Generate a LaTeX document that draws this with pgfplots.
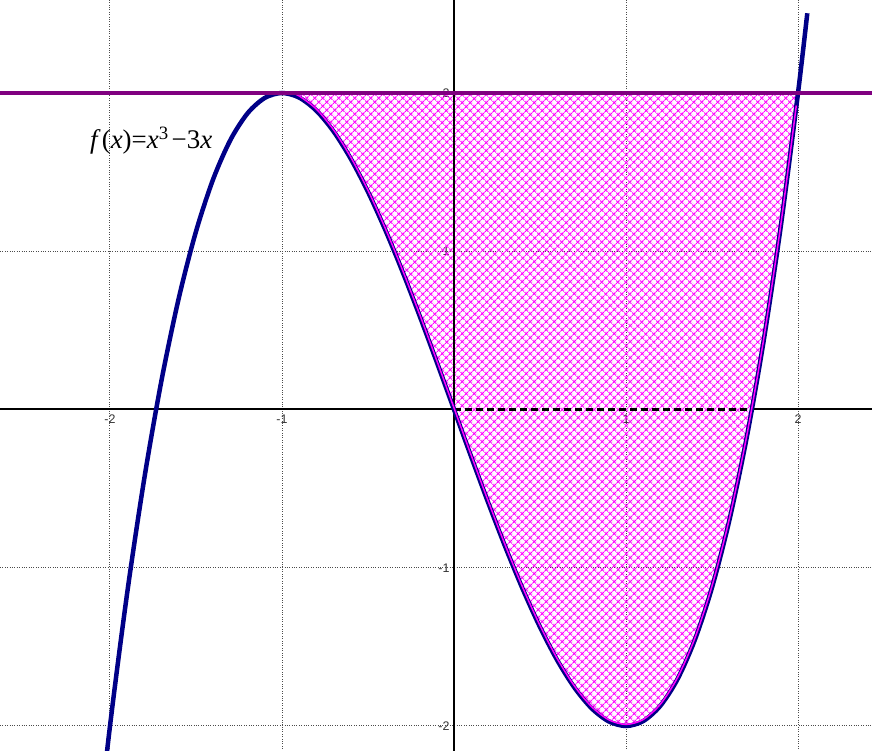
\documentclass[border=0pt]{standalone}
\usepackage{fontspec}
\setmainfont{Liberation Serif}
\newfontfamily\arial{Liberation Sans}
\usepackage{pgfplots}
\pgfplotsset{compat=1.18}
\usetikzlibrary{patterns.meta}
\definecolor{curvenavy}{RGB}{0,0,135}
\definecolor{hpurple}{RGB}{128,0,128}
\definecolor{hatchmag}{RGB}{255,0,255}
\pgfplotsset{
  layers/mylayers/.define layer set={axis background,main,axis grid,axis ticks,axis lines,axis tick labels,axis descriptions,axis foreground}{},
}
\begin{document}
\begin{tikzpicture}
\begin{axis}[
  name=ax, set layers=mylayers,
  width=872bp, height=751bp, scale only axis,
  xmin=-2.6395, xmax=2.4302, ymin=-2.158, ymax=2.5877,
  axis lines=middle, axis line style={draw=none},
  xtick={-2,-1,1,2}, ytick={-2,-1,1,2},
  xticklabels={-2,-1,1,2}, yticklabels={-2,-1,1,2},
  major tick length=0pt,
  grid=major, grid style={dotted, black!70, line width=1bp},
  xticklabel style={font=\arial\fontsize{12.5}{14}\selectfont, text=black!80, yshift=-2bp},
  yticklabel style={font=\arial\fontsize{12.5}{14}\selectfont, text=black!80, xshift=-1bp},
  clip=true,
]
% shaded region between y=2 and the curve, x from -1 to 2
\addplot[draw=none, smooth, pattern={Hatch[angle=45,distance=6bp,line width=1.4bp]}, pattern color=hatchmag]
  coordinates {(-1.0,2) (-0.9,1.971) (-0.8,1.888) (-0.7,1.757) (-0.6,1.584) (-0.5,1.375) (-0.4,1.136) (-0.3,0.873) (-0.2,0.592) (-0.1,0.299) (0,0) (0.1,-0.299) (0.2,-0.592) (0.3,-0.873) (0.4,-1.136) (0.5,-1.375) (0.6,-1.584) (0.7,-1.757) (0.8,-1.888) (0.9,-1.971) (1.0,-2) (1.1,-1.969) (1.2,-1.872) (1.3,-1.703) (1.4,-1.456) (1.5,-1.125) (1.6,-0.704) (1.7,-0.187) (1.8,0.432) (1.9,1.159) (2.0,2)} --cycle;
% axes
\addplot[on layer=axis foreground, black, line width=2bp] coordinates {(-2.6395,0) (0,0)};
\addplot[on layer=axis foreground, black, line width=2bp] coordinates {(1.732,0) (2.4302,0)};
\addplot[on layer=axis foreground, black, line width=2.2bp, dash pattern=on 7bp off 4bp] coordinates {(0,0) (1.732,0)};
\addplot[on layer=axis foreground, black, line width=2bp] coordinates {(0,-2.158) (0,2.5877)};
% curve f(x)=x^3-3x
\addplot[on layer=axis foreground, curvenavy, line width=4.5bp, smooth]
  coordinates {(-2.1,-2.961) (-2.0,-2) (-1.9,-1.159) (-1.8,-0.432) (-1.7,0.187) (-1.6,0.704) (-1.5,1.125) (-1.4,1.456) (-1.3,1.703) (-1.2,1.872) (-1.1,1.969) (-1.0,2) (-0.9,1.971) (-0.8,1.888) (-0.7,1.757) (-0.6,1.584) (-0.5,1.375) (-0.4,1.136) (-0.3,0.873) (-0.2,0.592) (-0.1,0.299) (0,0) (0.1,-0.299) (0.2,-0.592) (0.3,-0.873) (0.4,-1.136) (0.5,-1.375) (0.6,-1.584) (0.7,-1.757) (0.8,-1.888) (0.9,-1.971) (1.0,-2) (1.1,-1.969) (1.2,-1.872) (1.3,-1.703) (1.4,-1.456) (1.5,-1.125) (1.6,-0.704) (1.7,-0.187) (1.8,0.432) (1.9,1.159) (2.0,2) (2.054,2.504)};
% magenta border of the region
\addplot[on layer=axis foreground, hatchmag, line width=1.5bp, smooth, yshift=1.6bp]
  coordinates {(-0.95,1.993) (-0.9,1.971) (-0.8,1.888) (-0.7,1.757) (-0.6,1.584) (-0.5,1.375) (-0.4,1.136) (-0.3,0.873) (-0.2,0.592) (-0.1,0.299) (0,0) (0.1,-0.299) (0.2,-0.592) (0.3,-0.873) (0.4,-1.136) (0.5,-1.375) (0.6,-1.584) (0.7,-1.757) (0.8,-1.888) (0.9,-1.971) (1.0,-2) (1.1,-1.969) (1.2,-1.872) (1.3,-1.703) (1.4,-1.456) (1.5,-1.125) (1.6,-0.704) (1.7,-0.187) (1.8,0.432) (1.9,1.159) (1.99,1.911)};
% horizontal line y=2
\addplot[on layer=axis foreground, hpurple, line width=4.3bp] coordinates {(-2.6395,2) (2.4302,2)};
\node[anchor=base west, font=\fontsize{27}{32}\selectfont, inner sep=0pt] at (axis cs:-2.116,1.652)
  {\textit{f}\kern1bp(\textit{x})=\textit{x}\textsuperscript{3}\kern3bp−3\textit{x}};
\end{axis}
\pgfresetboundingbox
\path (ax.south west) rectangle (ax.north east);
\end{tikzpicture}
\end{document}
